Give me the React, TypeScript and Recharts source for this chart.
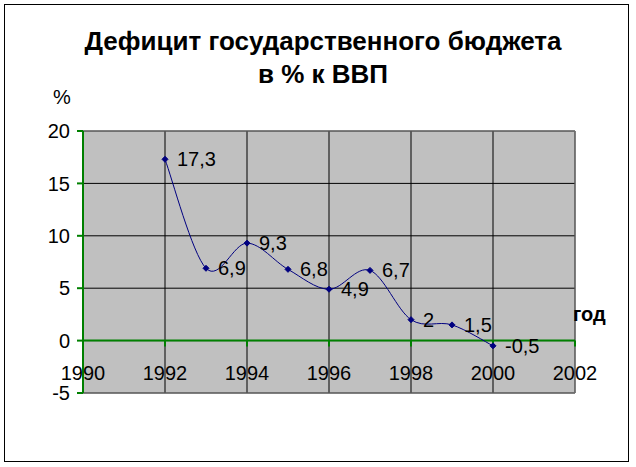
import React from 'react';
import {
  LineChart, Line, XAxis, YAxis, CartesianGrid, ReferenceLine, ReferenceDot, LabelList,
} from 'recharts';

const years = [1992, 1993, 1994, 1995, 1996, 1997, 1998, 1999, 2000];
const deficit = [17.3, 6.9, 9.3, 6.8, 4.9, 6.7, 2, 1.5, -0.5];
const xTicks = [1990, 1992, 1994, 1996, 1998, 2000, 2002];
const yTicks = [-5, 0, 5, 10, 15, 20];

const data = years.map((year, i) => ({ year, value: deficit[i] }));

const FONT = '"Liberation Sans", Arial, sans-serif';
const GREEN = '#008000';

// Excel-like smoothing (Catmull-Rom through the points)
const excelCurve = (context: any) => {
  let pts: number[][] = [];
  return {
    areaStart() {},
    areaEnd() {},
    lineStart() { pts = []; },
    point(x: number, y: number) { pts.push([+x, +y]); },
    lineEnd() {
      if (!pts.length) return;
      context.moveTo(pts[0][0], pts[0][1]);
      for (let i = 0; i < pts.length - 1; i++) {
        const p0 = pts[i - 1] || pts[i];
        const p1 = pts[i];
        const p2 = pts[i + 1];
        const p3 = pts[i + 2] || p2;
        context.bezierCurveTo(
          p1[0] + (p2[0] - p0[0]) / 6, p1[1] + (p2[1] - p0[1]) / 6,
          p2[0] - (p3[0] - p1[0]) / 6, p2[1] - (p3[1] - p1[1]) / 6,
          p2[0], p2[1],
        );
      }
    },
  };
};

const Diamond = (props: any) => {
  const { cx, cy } = props;
  if (cx == null || cy == null) return null;
  const r = 3;
  return (
    <polygon
      points={`${cx},${cy - r} ${cx + r},${cy} ${cx},${cy + r} ${cx - r},${cy}`}
      fill="#000080"
      stroke="#000080"
    />
  );
};

// small green tick mark hanging below the zero line
const ZeroTick = (props: any) => {
  const { cx, cy } = props;
  if (cx == null || cy == null) return null;
  return <line x1={cx} y1={cy} x2={cx} y2={cy + 6} stroke={GREEN} strokeWidth={2} />;
};

const XTick = (props: any) => {
  const { x, y, payload } = props;
  return (
    <text x={x} y={y - 13} textAnchor="middle" fontSize={20} fontFamily={FONT} fill="#000">
      {payload.value}
    </text>
  );
};

const ValueLabel = (props: any) => {
  const { x, y, value } = props;
  return (
    <text x={x + 12} y={y} dy={7} textAnchor="start" fontSize={20} fontFamily={FONT} fill="#000">
      {String(value).replace('.', ',')}
    </text>
  );
};

const App: React.FC = () => {
  return (
    <div style={{ position: 'absolute', left: 0, top: 0, width: 636, height: 467, background: '#fff', fontFamily: FONT }}>
      <div style={{ position: 'absolute', left: 4, top: 4, width: 625, height: 458, border: '1px solid #000', boxSizing: 'border-box' }} />
      <LineChart
        width={636}
        height={467}
        data={data}
        margin={{ top: 131, right: 61, bottom: 54, left: 43 }}
        style={{ position: 'absolute', left: 0, top: 0 }}
      >
        <CartesianGrid
          fill="#C0C0C0"
          fillOpacity={1}
          stroke="#000"
          strokeOpacity={1}
          horizontalValues={yTicks}
          verticalValues={xTicks}
        />
        <ReferenceLine y={20} stroke="#808080" />
        <ReferenceLine y={-5} stroke="#808080" />
        <ReferenceLine x={2002} stroke="#808080" />
        <XAxis
          dataKey="year"
          type="number"
          domain={[1990, 2002]}
          ticks={xTicks}
          axisLine={false}
          tickLine={false}
          tickSize={0}
          tickMargin={0}
          tick={<XTick />}
          height={20}
          interval={0}
        />
        <YAxis
          type="number"
          domain={[-5, 20]}
          ticks={yTicks}
          width={40}
          axisLine={{ stroke: GREEN, strokeWidth: 2 }}
          tickLine={{ stroke: GREEN, strokeWidth: 2 }}
          tickSize={6}
          tick={{ fill: '#000', fontSize: 20, fontFamily: FONT }}
          tickMargin={7}
          interval={0}
        />
        <ReferenceLine y={0} stroke={GREEN} strokeWidth={2} />
        {xTicks.map((t) => (
          <ReferenceDot key={t} x={t} y={0} r={0} shape={<ZeroTick />} ifOverflow="visible" />
        ))}
        <Line
          dataKey="value"
          type={excelCurve as any}
          stroke="#000080"
          strokeWidth={1}
          dot={<Diamond />}
          activeDot={false}
          isAnimationActive={false}
        >
          <LabelList dataKey="value" content={<ValueLabel />} />
        </Line>
      </LineChart>
      <div style={{ position: 'absolute', left: 0, top: 25, width: 646, textAlign: 'center', fontWeight: 'bold', fontSize: 26, lineHeight: '33px', color: '#000' }}>
        Дефицит государственного бюджета<br />в % к ВВП
      </div>
      <div style={{ position: 'absolute', left: 53, top: 86, fontSize: 20, color: '#000' }}>%</div>
      <div style={{ position: 'absolute', left: 573, top: 303, fontSize: 20, fontWeight: 'bold', color: '#000' }}>год</div>
    </div>
  );
};

export default App;
